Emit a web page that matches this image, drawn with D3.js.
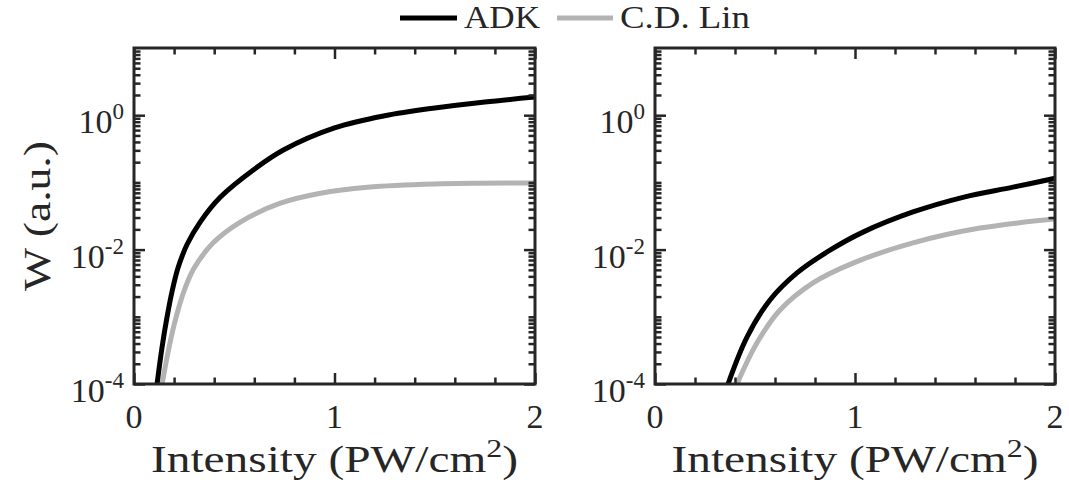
<!DOCTYPE html>
<html>
<head>
<meta charset="utf-8">
<script src="https://cdn.jsdelivr.net/npm/d3@7"></script>
<style>
  body { margin: 0; background: #ffffff; }
  svg { display: block; }
  text { font-family: "Liberation Serif", "Times New Roman", serif; fill: #262626; }
</style>
</head>
<body>
<svg id="chart" width="1069" height="488"></svg>
<script>
// Ionization rate W versus laser intensity, two targets, two models
const seriesNames = ["ADK", "C.D. Lin"];
const seriesColors = ["#000000", "#b3b3b3"];

// Left panel
const leftAdkIntensity = [0.115, 0.14, 0.165, 0.19, 0.22, 0.265, 0.33, 0.43, 0.595, 0.745, 1.0, 1.25, 1.5, 1.75, 2.0];
const leftAdkRate      = [1e-4, 3.55e-4, 1.0e-3, 2.4e-3, 5.4e-3, 0.012, 0.0257, 0.060, 0.153, 0.303, 0.646, 0.98, 1.28, 1.57, 1.86];
const leftLinIntensity = [0.14, 0.17, 0.20, 0.24, 0.295, 0.395, 0.53, 0.73, 0.93, 1.165, 1.5, 2.0];
const leftLinRate      = [1e-4, 3.0e-4, 7.6e-4, 2.0e-3, 5.0e-3, 0.0126, 0.0257, 0.049, 0.069, 0.085, 0.095, 0.098];

// Right panel
const rightAdkIntensity = [0.365, 0.46, 0.575, 0.71, 0.875, 1.04, 1.29, 1.54, 1.79, 2.0];
const rightAdkRate      = [1e-4, 5.0e-4, 1.78e-3, 4.5e-3, 9.8e-3, 0.0182, 0.0363, 0.060, 0.085, 0.115];
const rightLinIntensity = [0.41, 0.51, 0.625, 0.79, 0.99, 1.29, 1.625, 2.0];
const rightLinRate      = [1e-4, 4.1e-4, 1.26e-3, 3.2e-3, 6.3e-3, 0.0126, 0.0209, 0.0285];

// Axes
const xDomain = [0, 2];
const yDomain = [1e-4, 10];
const xTickValues = [0, 1, 2];
const xTickLabels = ["0", "1", "2"];
const yTickValues = [1, 1e-2, 1e-4];
const yTickExponents = ["0", "-2", "-4"];
const xLabel = "Intensity (PW/cm";
const xLabelSup = "2";
const xLabelTail = ")";
const yLabel = "W (a.u.)";

const svg = d3.select("#chart");
const axisColor = "#262626";
const plotTop = 48, plotBottom = 384;

const panels = [
  { left: 134, right: 535, yLabel: true,
    series: [
      { x: leftAdkIntensity, y: leftAdkRate, s: 0 },
      { x: leftLinIntensity, y: leftLinRate, s: 1 }
    ] },
  { left: 655, right: 1055, yLabel: false,
    series: [
      { x: rightAdkIntensity, y: rightAdkRate, s: 0 },
      { x: rightLinIntensity, y: rightLinRate, s: 1 }
    ] }
];

// Minor ticks: every 0.2 along x, 2..9 within each decade plus odd decades along y
const xMinor = d3.range(0, 2.0001, 0.2).filter(v => !xTickValues.some(t => Math.abs(t - v) < 1e-9));
const yMinor = [];
for (let e = -4; e <= 0; e++) {
  for (let k = 1; k <= 9; k++) {
    const v = k * Math.pow(10, e);
    if (!yTickValues.some(t => Math.abs(Math.log10(t) - Math.log10(v)) < 1e-9)) yMinor.push(v);
  }
}

panels.forEach((p, i) => {
  const x = d3.scaleLinear().domain(xDomain).range([p.left, p.right]);
  const y = d3.scaleLog().domain(yDomain).range([plotBottom, plotTop]);
  const g = svg.append("g");

  const clipId = "clip" + i;
  svg.append("clipPath").attr("id", clipId)
    .append("rect").attr("x", p.left).attr("y", plotTop)
    .attr("width", p.right - p.left).attr("height", plotBottom - plotTop);

  const line = d3.line().x(d => x(d[0])).y(d => y(d[1])).curve(d3.curveCatmullRom.alpha(0.5));
  // grey drawn first so the black curve sits on top
  [1, 0].forEach(si => {
    const s = p.series.find(q => q.s === si);
    g.append("path")
      .attr("clip-path", `url(#${clipId})`)
      .attr("d", line(s.x.map((v, j) => [v, s.y[j]])))
      .attr("fill", "none")
      .attr("stroke", seriesColors[si])
      .attr("stroke-width", 5)
      .attr("stroke-linejoin", "round");
  });

  const styleAxis = sel => {
    sel.select(".domain").remove();
    sel.selectAll(".tick line").attr("stroke", axisColor).attr("stroke-width", 2.5);
    sel.selectAll(".tick text").remove();
  };
  const majorLen = 11, minorLen = 6.5;

  g.append("g").attr("transform", `translate(0,${plotBottom})`)
    .call(d3.axisBottom(x).tickValues(xTickValues).tickSize(-majorLen)).call(styleAxis);
  g.append("g").attr("transform", `translate(0,${plotBottom})`)
    .call(d3.axisBottom(x).tickValues(xMinor).tickSize(-minorLen)).call(styleAxis);
  g.append("g").attr("transform", `translate(0,${plotTop})`)
    .call(d3.axisTop(x).tickValues(xTickValues).tickSize(-majorLen)).call(styleAxis);
  g.append("g").attr("transform", `translate(0,${plotTop})`)
    .call(d3.axisTop(x).tickValues(xMinor).tickSize(-minorLen)).call(styleAxis);
  g.append("g").attr("transform", `translate(${p.left},0)`)
    .call(d3.axisLeft(y).tickValues(yTickValues).tickSize(-majorLen)).call(styleAxis);
  g.append("g").attr("transform", `translate(${p.left},0)`)
    .call(d3.axisLeft(y).tickValues(yMinor).tickSize(-minorLen)).call(styleAxis);
  g.append("g").attr("transform", `translate(${p.right},0)`)
    .call(d3.axisRight(y).tickValues(yTickValues).tickSize(-majorLen)).call(styleAxis);
  g.append("g").attr("transform", `translate(${p.right},0)`)
    .call(d3.axisRight(y).tickValues(yMinor).tickSize(-minorLen)).call(styleAxis);

  // box
  g.append("rect")
    .attr("x", p.left).attr("y", plotTop)
    .attr("width", p.right - p.left).attr("height", plotBottom - plotTop)
    .attr("fill", "none").attr("stroke", axisColor).attr("stroke-width", 3);

  // x tick labels
  g.selectAll(".xlab").data(xTickValues).join("text")
    .attr("x", d => x(d)).attr("y", plotBottom + 44)
    .attr("text-anchor", "middle").attr("font-size", 34)
    .text((d, j) => xTickLabels[j]);

  // y tick labels with exponent
  yTickValues.forEach((v, j) => {
    const t = g.append("text")
      .attr("x", p.left - 10).attr("y", y(v) + 18)
      .attr("text-anchor", "end").attr("font-size", 34);
    t.append("tspan").text("10");
    t.append("tspan").attr("dy", -14).attr("font-size", 23).text(yTickExponents[j]);
  });

  // x axis title
  const xt = g.append("text")
    .attr("x", (p.left + p.right) / 2).attr("y", 472)
    .attr("text-anchor", "middle").attr("font-size", 37)
    .attr("textLength", 367).attr("lengthAdjust", "spacingAndGlyphs");
  xt.append("tspan").text(xLabel);
  xt.append("tspan").attr("dy", -15).attr("font-size", 25).text(xLabelSup);
  xt.append("tspan").attr("dy", 15).text(xLabelTail);

  if (p.yLabel) {
    svg.append("text")
      .attr("transform", `translate(50,${(plotTop + plotBottom) / 2}) rotate(-90)`)
      .attr("text-anchor", "middle").attr("font-size", 37)
      .attr("textLength", 150).attr("lengthAdjust", "spacingAndGlyphs")
      .text(yLabel);
  }
});

// Legend
const legend = svg.append("g");
const legendItems = [
  { x0: 400, x1: 457, tx: 464, w: 76 },
  { x0: 557, x1: 613, tx: 620, w: 130 }
];
legendItems.forEach((it, i) => {
  legend.append("line")
    .attr("x1", it.x0).attr("x2", it.x1).attr("y1", 18).attr("y2", 18)
    .attr("stroke", seriesColors[i]).attr("stroke-width", 5);
  legend.append("text")
    .attr("x", it.tx).attr("y", 28).attr("font-size", 32)
    .attr("textLength", it.w).attr("lengthAdjust", "spacingAndGlyphs")
    .text(seriesNames[i]);
});
</script>
</body>
</html>
